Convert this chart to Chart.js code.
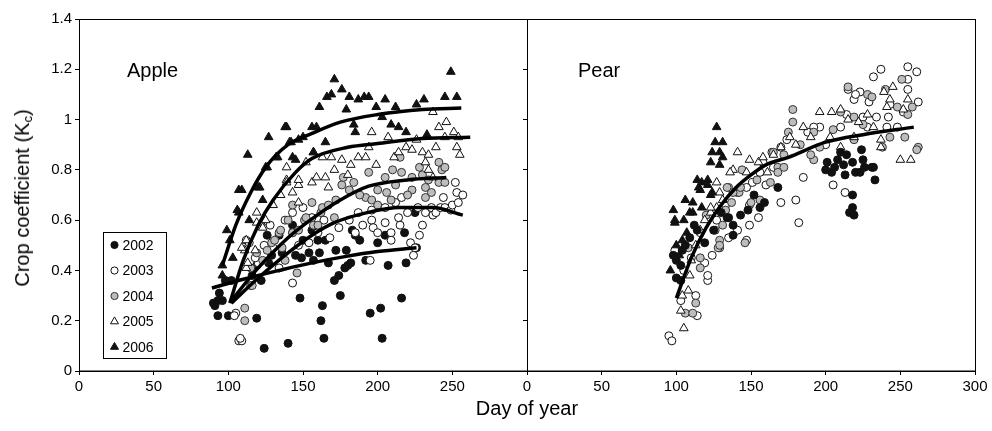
<!DOCTYPE html>
<html>
<head>
<meta charset="utf-8">
<script src="https://cdn.jsdelivr.net/npm/chart.js@4.4.1/dist/chart.umd.min.js"></script>
<style>
  html, body { margin: 0; padding: 0; background: #fff; }
  #wrap { position: relative; width: 992px; height: 431px; overflow: hidden; font-family: 'Liberation Sans', Arial, sans-serif; color: #000; }
  canvas { position: absolute; top: 0; }
  #cA { left: 0; }
  #cP { left: 500px; }
  .ytitle { position: absolute; left: 23px; top: 198px; transform: translate(-50%, -50%) rotate(-90deg); white-space: nowrap; font-size: 20px; }
  .ytitle sub { font-size: 13px; vertical-align: -3px; }
  .xtitle { position: absolute; left: 527px; top: 408px; transform: translate(-50%, -50%); white-space: nowrap; font-size: 20px; }
</style>
</head>
<body>
<div id="wrap">
  <canvas id="cA" width="545" height="431"></canvas>
  <canvas id="cP" width="492" height="431"></canvas>
  <div class="ytitle">Crop coefficient (K<sub>c</sub>)</div>
  <div class="xtitle">Day of year</div>
</div>
<script>
// ---------- Data (day of year, crop coefficient Kc) ----------
const years = ['2002', '2003', '2004', '2005', '2006'];
const xTicks = [0, 50, 100, 150, 200, 250, 300];
const yTicks = [0, 0.2, 0.4, 0.6, 0.8, 1, 1.2, 1.4];

// Apple
const apple2002 = [[91,0.26],[93,0.28],[96,0.28],[93,0.22],[94,0.31],[90,0.27],[100,0.22],[102,0.36],[119,0.21],[124,0.09],[140,0.11],[148,0.29],[162,0.20],[163,0.26],[164,0.13],[175,0.30],[195,0.23],[202,0.25],[203,0.13],[216,0.29],[122,0.36],[126,0.54],[129,0.46],[136,0.47],[143,0.58],[149,0.45],[154,0.47],[160,0.52],[161,0.47],[167,0.43],[172,0.48],[171,0.36],[174,0.38],[178,0.41],[179,0.48],[183,0.56],[185,0.54],[188,0.52],[182,0.43],[200,0.51],[207,0.42],[205,0.54],[219,0.43],[218,0.55],[225,0.63],[226,0.49],[156,0.56],[150,0.52],[134,0.54],[127,0.43],[116,0.38],[119,0.42],[98,0.36],[157,0.44],[165,0.52],[180,0.42],[145,0.46],[192,0.44]];
const apple2003 = [[105,0.23],[104,0.22],[107,0.12],[109,0.12],[108,0.13],[112,0.52],[114,0.51],[120,0.43],[124,0.50],[130,0.49],[134,0.41],[138,0.60],[143,0.63],[143,0.35],[143,0.55],[150,0.65],[154,0.51],[156,0.61],[164,0.60],[174,0.57],[181,0.60],[187,0.63],[195,0.44],[196,0.60],[196,0.64],[197,0.57],[205,0.59],[205,0.65],[209,0.55],[209,0.52],[212,0.67],[214,0.61],[215,0.58],[216,0.69],[220,0.63],[222,0.51],[224,0.46],[225,0.49],[227,0.65],[232,0.63],[236,0.65],[237,0.62],[239,0.63],[242,0.65],[244,0.69],[245,0.65],[249,0.64],[250,0.66],[252,0.75],[253,0.71],[254,0.67],[257,0.70],[160,0.55],[168,0.53],[185,0.55],[190,0.58],[200,0.55],[230,0.58],[228,0.54],[118,0.45],[128,0.58],[147,0.50]];
const apple2004 = [[111,0.25],[111,0.20],[115,0.34],[115,0.41],[116,0.34],[119,0.47],[123,0.44],[126,0.48],[129,0.51],[131,0.52],[134,0.55],[135,0.56],[136,0.49],[143,0.66],[143,0.55],[146,0.39],[147,0.56],[151,0.60],[152,0.61],[156,0.67],[157,0.58],[162,0.63],[163,0.65],[171,0.61],[172,0.68],[176,0.74],[177,0.77],[181,0.72],[184,0.75],[192,0.69],[194,0.79],[196,0.68],[200,0.72],[205,0.77],[206,0.71],[209,0.68],[210,0.80],[212,0.74],[215,0.85],[216,0.79],[223,0.77],[223,0.72],[228,0.81],[232,0.73],[232,0.69],[234,0.76],[236,0.71],[241,0.83],[241,0.75],[243,0.80],[245,0.81],[245,0.75],[140,0.60],[167,0.66],[188,0.70],[200,0.66],[220,0.70],[230,0.78],[138,0.44],[160,0.58]];
const apple2005 = [[111,0.48],[112,0.41],[113,0.43],[109,0.49],[112,0.52],[118,0.48],[119,0.63],[119,0.59],[122,0.59],[123,0.57],[125,0.60],[139,0.81],[139,0.76],[139,0.75],[143,0.71],[147,0.74],[147,0.67],[152,0.83],[147,0.76],[156,0.75],[157,0.87],[159,0.77],[163,0.85],[165,0.77],[167,0.73],[169,0.85],[176,0.84],[182,0.82],[187,0.85],[192,0.85],[194,0.89],[196,0.95],[199,0.82],[211,0.85],[214,0.87],[219,0.89],[223,0.88],[230,0.87],[232,0.83],[234,0.80],[234,0.86],[237,0.77],[237,1.03],[239,0.89],[241,0.97],[245,0.93],[246,0.99],[251,0.95],[253,0.89],[254,0.93],[255,0.86],[207,0.93],[180,0.78],[171,0.80],[135,0.70],[130,0.66],[226,0.92]];
const apple2006 = [[96,0.38],[96,0.42],[99,0.56],[101,0.52],[103,0.45],[106,0.64],[107,0.72],[107,0.63],[109,0.72],[113,0.86],[114,0.60],[120,0.73],[121,0.73],[123,0.68],[125,0.81],[126,0.81],[127,0.93],[132,0.85],[133,0.85],[138,0.97],[139,0.97],[141,0.91],[142,0.91],[143,0.85],[145,0.84],[147,0.92],[150,0.93],[156,0.97],[157,0.87],[159,0.97],[161,1.05],[165,0.91],[166,1.09],[169,1.10],[171,1.16],[176,1.12],[179,1.04],[181,1.09],[184,0.98],[185,0.95],[187,1.08],[191,1.09],[194,1.09],[199,1.05],[203,1.01],[205,1.08],[209,0.98],[212,1.05],[214,0.97],[219,0.95],[226,1.06],[231,1.08],[233,0.94],[245,1.09],[249,1.19],[253,1.09]];

const appleFit2002 = [[89,0.33],[110,0.365],[134,0.40],[156,0.43],[178,0.455],[200,0.475],[226,0.49]];
const appleFit2003 = [[102,0.27],[120,0.37],[140,0.47],[156,0.54],[171,0.59],[193,0.63],[215,0.65],[237,0.65],[257,0.62]];
const appleFit2004 = [[102,0.28],[120,0.41],[140,0.53],[156,0.605],[175,0.68],[194,0.735],[220,0.76],[246,0.77]];
const appleFit2005 = [[101,0.27],[110,0.44],[120,0.58],[130,0.68],[145,0.79],[156,0.845],[180,0.89],[200,0.905],[230,0.925],[262,0.93]];
const appleFit2006 = [[96,0.42],[105,0.58],[115,0.71],[125,0.81],[140,0.90],[156,0.945],[175,0.99],[200,1.02],[230,1.04],[256,1.046]];

// Pear
const pear2002 = [[98,0.46],[100,0.44],[103,0.42],[100,0.37],[103,0.36],[106,0.50],[109,0.53],[114,0.56],[119,0.51],[134,0.61],[138,0.54],[138,0.58],[143,0.62],[135,0.61],[156,0.65],[159,0.67],[168,0.73],[200,0.80],[201,0.83],[204,0.79],[206,0.81],[208,0.84],[210,0.87],[212,0.82],[213,0.78],[214,0.86],[218,0.83],[218,0.70],[218,0.65],[219,0.62],[220,0.79],[223,0.79],[224,0.88],[225,0.84],[226,0.81],[231,0.81],[232,0.81],[233,0.76],[216,0.63],[104,0.48],[112,0.58],[125,0.56],[130,0.63],[148,0.64],[152,0.70]];
const pear2003 = [[95,0.14],[97,0.12],[99,0.48],[103,0.28],[114,0.22],[113,0.30],[121,0.36],[121,0.38],[119,0.43],[124,0.46],[129,0.49],[135,0.53],[141,0.56],[149,0.58],[147,0.52],[155,0.61],[149,0.66],[170,0.67],[182,0.59],[180,0.68],[185,0.77],[205,0.74],[213,0.71],[255,1.21],[237,1.20],[232,1.17],[255,1.16],[261,1.19],[215,1.12],[219,1.08],[223,1.11],[229,1.07],[255,1.12],[262,1.07],[252,1.03],[234,1.01],[225,1.01],[214,1.02],[210,0.97],[196,0.97],[192,0.97],[188,0.95],[174,0.92],[170,0.89],[164,0.87],[165,0.81],[158,0.83],[156,0.79],[151,0.75],[147,0.73],[141,0.71],[242,1.01],[248,0.97],[241,0.97],[220,1.10],[105,0.40],[110,0.45],[116,0.55],[127,0.60],[133,0.66],[160,0.74],[200,0.90],[243,1.06],[228,0.97]];
const pear2004 = [[106,0.23],[111,0.23],[113,0.27],[116,0.41],[108,0.49],[116,0.45],[128,0.49],[129,0.52],[131,0.58],[146,0.51],[135,0.73],[137,0.67],[133,0.64],[156,0.68],[163,0.75],[168,0.81],[142,0.71],[126,0.56],[129,0.50],[178,1.04],[178,0.99],[175,0.95],[192,0.95],[215,1.13],[228,1.10],[231,1.09],[251,1.16],[258,1.05],[255,1.02],[253,0.93],[262,0.89],[261,0.88],[243,0.93],[238,0.89],[219,0.92],[219,1.01],[210,1.03],[196,0.89],[192,0.84],[190,0.86],[172,0.86],[165,0.87],[172,0.81],[168,0.79],[154,0.76],[144,0.80],[143,0.73],[134,0.73],[138,0.71],[150,0.67],[205,0.96],[225,0.98],[240,1.12],[248,1.05],[183,0.90],[120,0.62]];
const pear2005 = [[105,0.17],[103,0.24],[108,0.32],[109,0.38],[104,0.30],[116,0.56],[123,0.63],[127,0.65],[141,0.87],[149,0.84],[155,0.83],[161,0.79],[138,0.80],[147,0.79],[170,0.89],[176,0.93],[185,0.97],[190,0.93],[196,1.03],[204,1.03],[210,1.04],[215,1.00],[219,0.93],[222,0.99],[239,1.11],[245,1.13],[243,1.08],[255,1.08],[241,1.05],[252,1.04],[237,0.89],[237,0.92],[250,0.84],[257,0.84],[232,0.97],[203,0.93],[210,0.89],[127,0.75],[129,0.71],[131,0.68],[123,0.65],[136,0.79],[110,0.44],[113,0.50],[119,0.60],[158,0.85],[180,0.90],[228,1.02],[165,0.86]];
const pear2006 = [[127,0.97],[126,0.91],[131,0.91],[124,0.87],[129,0.87],[131,0.85],[123,0.83],[129,0.82],[114,0.76],[117,0.75],[121,0.74],[116,0.72],[124,0.71],[106,0.68],[111,0.67],[98,0.64],[109,0.63],[99,0.60],[105,0.60],[111,0.63],[115,0.73],[121,0.76],[123,0.70],[117,0.65],[96,0.40],[99,0.59],[107,0.55],[100,0.50],[102,0.46],[104,0.52]];

const pearFit = [[100,0.29],[110,0.45],[120,0.57],[130,0.66],[140,0.73],[150,0.78],[160,0.82],[175,0.85],[200,0.91],[225,0.94],[259,0.97]];

// ---------- Styles ----------
const FONT = "'Liberation Sans', Arial, Helvetica, sans-serif";
Chart.defaults.font.family = FONT;
Chart.defaults.color = '#000';

const markerStyle = {
  '2002': { pointStyle: 'circle',   backgroundColor: '#111', borderColor: '#111', pointRadius: 4,   borderWidth: 1 },
  '2003': { pointStyle: 'circle',   backgroundColor: '#fff', borderColor: '#111', pointRadius: 4,   borderWidth: 1 },
  '2004': { pointStyle: 'circle',   backgroundColor: '#bdbdbd', borderColor: '#333', pointRadius: 4, borderWidth: 1 },
  '2005': { pointStyle: 'triangle', backgroundColor: '#fff', borderColor: '#111', pointRadius: 5,   borderWidth: 1 },
  '2006': { pointStyle: 'triangle', backgroundColor: '#111', borderColor: '#111', pointRadius: 5,   borderWidth: 1 }
};

const toXY = arr => arr.map(p => ({ x: p[0], y: p[1] }));

function scatterSet(year, arr) {
  const s = markerStyle[year];
  return {
    label: year, data: toXY(arr), showLine: false,
    pointStyle: s.pointStyle, pointRadius: s.pointRadius, pointHoverRadius: s.pointRadius,
    pointBackgroundColor: s.backgroundColor, pointBorderColor: s.borderColor, pointBorderWidth: s.borderWidth,
    backgroundColor: s.backgroundColor, borderColor: s.borderColor
  };
}
function fitSet(arr) {
  return {
    label: 'fit', data: toXY(arr), showLine: true, pointRadius: 0, pointHoverRadius: 0,
    borderColor: '#000', borderWidth: 3.5, cubicInterpolationMode: 'monotone', fill: false
  };
}

// ---------- Plugins ----------
const framePlugin = {
  id: 'frame',
  afterDraw(chart) {
    const a = chart.chartArea, ctx = chart.ctx;
    ctx.save();
    ctx.strokeStyle = '#000';
    ctx.lineWidth = 1;
    ctx.strokeRect(Math.round(a.left) + 0.5, Math.round(a.top) + 0.5, Math.round(a.right - a.left) - 1 + 1, Math.round(a.bottom - a.top) - 0.5);
    ctx.restore();
  }
};

function panelLabel(text, dx) {
  return {
    id: 'panelLabel',
    afterDraw(chart) {
      const a = chart.chartArea, ctx = chart.ctx;
      ctx.save();
      ctx.font = '20px ' + FONT;
      ctx.fillStyle = '#000';
      ctx.textBaseline = 'alphabetic';
      ctx.textAlign = 'left';
      ctx.fillText(text, a.left + dx, a.top + 58);
      ctx.restore();
    }
  };
}

const legendPlugin = {
  id: 'boxLegend',
  afterDraw(chart) {
    const a = chart.chartArea, ctx = chart.ctx;
    const bx = Math.round(a.left + 24) + 0.5, by = Math.round(a.top + 213) + 0.5;
    const bw = 63, bh = 126;
    ctx.save();
    ctx.fillStyle = '#fff';
    ctx.fillRect(bx, by, bw, bh);
    ctx.strokeStyle = '#000';
    ctx.lineWidth = 1;
    ctx.strokeRect(bx, by, bw, bh);
    ctx.font = '14px ' + FONT;
    ctx.textBaseline = 'middle';
    ctx.textAlign = 'left';
    years.forEach((yr, i) => {
      const s = markerStyle[yr];
      const cy = by + 12.5 + i * 25.5;
      const cx = bx + 11;
      ctx.fillStyle = s.backgroundColor;
      ctx.strokeStyle = s.borderColor;
      ctx.lineWidth = 1;
      ctx.beginPath();
      if (s.pointStyle === 'circle') {
        ctx.arc(cx, cy, 3.6, 0, Math.PI * 2);
      } else {
        const r = 4.6;
        ctx.moveTo(cx, cy - r);
        ctx.lineTo(cx + r * 0.866, cy + r * 0.5);
        ctx.lineTo(cx - r * 0.866, cy + r * 0.5);
        ctx.closePath();
      }
      ctx.fill();
      ctx.stroke();
      ctx.fillStyle = '#000';
      ctx.fillText(yr, cx + 8, cy + 1);
    });
    ctx.restore();
  }
};

function makeOptions(showYLabels, hideLastX, yWidth, rightPad) {
  return {
    responsive: false,
    animation: false,
    events: [],
    layout: { padding: { top: 19, right: rightPad, left: 0, bottom: 0 } },
    plugins: { legend: { display: false }, tooltip: { enabled: false } },
    scales: {
      x: {
        type: 'linear', min: xTicks[0], max: xTicks[xTicks.length - 1],
        afterBuildTicks: s => { s.ticks = xTicks.map(v => ({ value: v })); },
        ticks: {
          font: { size: 15 }, color: '#000', padding: 3, maxRotation: 0,
          callback: v => (hideLastX && v === 300) ? '' : String(v)
        },
        grid: { display: true, drawOnChartArea: false, drawTicks: true, tickLength: 4, color: '#000', lineWidth: 1 },
        border: { display: true, color: '#000', width: 1 },
        afterFit: s => { s.height = 60; }
      },
      y: {
        type: 'linear', min: yTicks[0], max: yTicks[yTicks.length - 1],
        afterBuildTicks: s => { s.ticks = yTicks.map(v => ({ value: v })); },
        ticks: {
          font: { size: 15 }, color: '#000', padding: 3,
          callback: v => showYLabels ? String(Math.round(v * 10) / 10) : ''
        },
        grid: { display: true, drawOnChartArea: false, drawTicks: true, tickLength: 4, color: '#000', lineWidth: 1 },
        border: { display: true, color: '#000', width: 1 },
        afterFit: s => { s.width = yWidth; }
      }
    }
  };
}

// Apple panel (index 0 is drawn on top)
new Chart(document.getElementById('cA'), {
  type: 'scatter',
  data: {
    datasets: [
      fitSet(appleFit2002), fitSet(appleFit2003), fitSet(appleFit2004), fitSet(appleFit2005), fitSet(appleFit2006),
      scatterSet('2006', apple2006), scatterSet('2005', apple2005), scatterSet('2004', apple2004),
      scatterSet('2003', apple2003), scatterSet('2002', apple2002)
    ]
  },
  options: makeOptions(true, true, 79, 18),
  plugins: [framePlugin, panelLabel('Apple', 48), legendPlugin]
});

// Pear panel
new Chart(document.getElementById('cP'), {
  type: 'scatter',
  data: {
    datasets: [
      fitSet(pearFit),
      scatterSet('2006', pear2006), scatterSet('2002', pear2002), scatterSet('2005', pear2005),
      scatterSet('2004', pear2004), scatterSet('2003', pear2003)
    ]
  },
  options: makeOptions(false, false, 27, 17),
  plugins: [framePlugin, panelLabel('Pear', 51)]
});
</script>
</body>
</html>
